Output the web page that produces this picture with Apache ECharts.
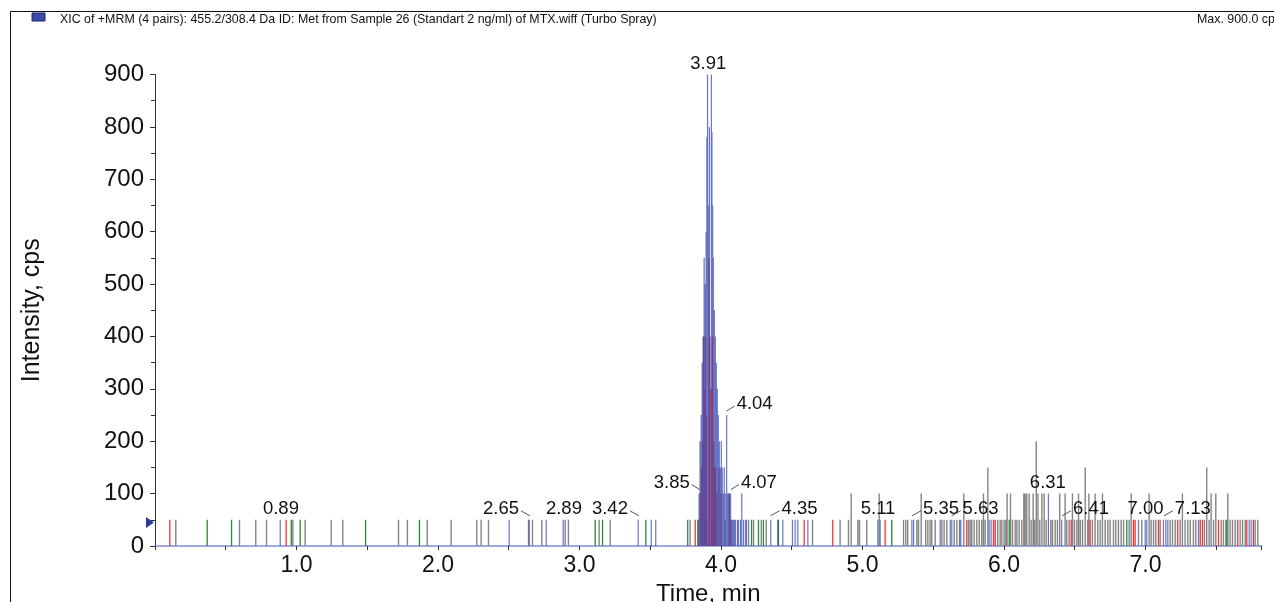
<!DOCTYPE html>
<html>
<head>
<meta charset="utf-8">
<script src="https://cdn.jsdelivr.net/npm/echarts@6/dist/echarts.min.js"></script>
<style>
html,body{margin:0;padding:0;background:#fff;overflow:hidden;width:1274px;height:602px;}
#chart{width:1274px;height:602px;display:block;}
</style>
</head>
<body>
<div id="chart"></div>
<script>
// ---------- data (time in min, intensity in cps) ----------
const headerText = 'XIC of +MRM (4 pairs): 455.2/308.4 Da ID: Met from Sample 26 (Standart 2 ng/ml) of MTX.wiff (Turbo Spray)';
const maxText = 'Max. 900.0 cps';
const xAxisName = 'Time, min';
const yAxisName = 'Intensity, cps';

const blueSpikes = [
  [0.885,50],[2.503,50],[2.645,50],[2.765,50],[2.885,50],[3.415,50],[3.507,50],[3.539,50],
  [3.845,100],[3.852,200],[3.860,250],[3.867,350],[3.874,400],[3.881,550],[3.888,500],[3.895,600],
  [3.900,780],[3.905,900],[3.912,650],[3.918,800],[3.932,900],[3.936,790],[3.941,650],[3.946,550],
  [3.953,450],[3.960,400],[3.967,350],[3.974,300],[3.981,250],[3.988,200],[3.995,150],[4.002,200],
  [4.009,150],[4.016,100],[4.023,150],[4.030,100],[4.040,250],[4.047,100],[4.054,100],[4.061,100],
  [4.068,100],[4.075,50],[4.082,50],[4.089,50],[4.096,50],[4.103,50],[4.117,50],[4.124,50],
  [4.138,50],[4.147,100],[4.160,50],[4.175,50],[4.195,50],
  [4.352,50],[4.401,50],[4.437,50],[4.505,50],[4.524,50],[4.543,50],[4.614,50],[5.108,50],[5.125,50],
  [5.349,50],[5.361,50],[5.549,50],[5.620,50],[5.631,50],[5.686,50],[5.695,50],[5.895,50],[5.909,50],
  [6.314,100],[6.408,50],[6.998,50],[7.009,50],[7.144,50],[7.158,50],[7.375,50],[7.733,50],[7.747,50]
];
const redSpikes = [
  [0.105,50],[0.927,50],[3.818,50],[3.855,100],[3.862,150],[3.870,200],[3.877,400],[3.884,300],
  [3.890,400],[3.897,250],[3.915,550],[3.922,400],[3.930,300],[3.940,400],[3.948,200],[3.955,150],
  [3.962,150],[3.970,100],[3.985,150],[4.000,100],[4.058,100],[4.070,50],[4.588,50],[4.790,50],
  [5.160,50],[5.737,50],[5.926,50],[5.938,50],[6.475,50],[6.609,50],[6.915,50],[6.927,50],[7.092,50],
  [7.228,50],[7.387,50],[7.403,50],[7.516,50],[7.652,50],[7.716,50],[7.763,50]
];
const greenSpikes = [
  [0.369,50],[0.541,50],[0.963,50],[1.026,50],[1.488,50],[1.869,50],[3.111,50],[3.163,50],[3.469,50],
  [3.765,50],[3.836,50],[3.885,50],[3.950,50],[4.216,50],[4.265,50],[4.300,50],[4.406,50],[5.207,50],
  [6.037,50],[6.868,50],[7.575,50]
];
const graySpikes = [
  [0.147,50],[0.597,50],[0.712,50],[0.788,50],[0.974,50],[1.061,50],[1.245,50],[1.327,50],[1.721,50],
  [1.784,50],[1.924,50],[2.093,50],[2.274,50],[2.305,50],[2.357,50],[2.640,50],[2.668,50],[2.734,50],
  [2.899,50],[2.922,50],[3.139,50],[3.217,50],[3.782,50],[3.842,50],[3.868,50],[3.900,50],[3.935,50],
  [4.030,50],[4.180,50],[4.230,50],[4.285,50],[4.320,50],[4.647,50],[4.842,50],[4.901,50],[4.920,100],
  [4.967,50],[4.979,50],[5.030,50],[5.118,100],[5.290,50],[5.306,50],[5.320,50],[5.384,50],[5.396,50],
  [5.415,100],[5.447,50],[5.462,50],[5.478,50],[5.490,50],[5.514,50],[5.561,50],[5.577,50],[5.596,50],
  [5.648,50],[5.667,50],[5.716,100],[5.749,50],[5.761,50],[5.772,50],[5.789,50],[5.808,50],[5.825,50],
  [5.843,50],[5.855,100],[5.867,50],[5.886,150],[5.956,50],[5.973,50],[5.985,50],[6.001,50],[6.013,50],
  [6.022,100],[6.046,100],[6.060,50],[6.079,50],[6.091,50],[6.107,50],[6.126,50],[6.140,100],[6.150,100],
  [6.161,100],[6.178,100],[6.192,50],[6.206,100],[6.216,50],[6.228,200],[6.240,100],[6.253,50],[6.268,100],
  [6.284,100],[6.298,50],[6.331,50],[6.343,50],[6.362,50],[6.378,50],[6.394,100],[6.432,100],[6.444,50],
  [6.461,50],[6.484,100],[6.498,50],[6.515,50],[6.527,100],[6.539,50],[6.555,50],[6.574,150],[6.592,50],
  [6.600,100],[6.625,50],[6.644,100],[6.663,50],[6.680,50],[6.696,100],[6.715,50],[6.734,50],[6.750,50],
  [6.774,50],[6.790,50],[6.809,50],[6.828,50],[6.845,50],[6.885,50],[6.899,100],[6.951,50],[6.974,50],
  [7.026,100],[7.040,50],[7.057,50],[7.073,50],[7.104,50],[7.127,50],[7.174,50],[7.191,50],[7.210,50],
  [7.245,50],[7.261,100],[7.280,50],[7.299,50],[7.316,50],[7.339,50],[7.356,50],[7.417,50],[7.433,150],
  [7.450,50],[7.464,100],[7.481,50],[7.497,100],[7.535,50],[7.551,50],[7.568,50],[7.582,100],[7.598,50],
  [7.615,50],[7.634,50],[7.669,50],[7.686,50],[7.705,50],[7.775,50],[7.794,50]
];
// peak labels: retention time and the intensity the label sits on
const labelTimes   = [0.89,2.65,2.89,3.42,3.85,3.91,4.04,4.07,4.35,5.11,5.35,5.63,6.31,6.41,7.00,7.13];
const labelHeights = [50,50,50,50,100,900,250,100,50,50,50,50,100,50,50,50];
const thresholdLevel = 45;

// ---------- styling / layout (not data) ----------
const labelShift = [0,-29,0,-29,-28,0,28,28,29,0,29,29,0,29,0,29]; // px, horizontal label shift
const FONT = '"Liberation Sans", Arial, sans-serif';
const W = 1274, H = 602;

function spikeLine(spikes){
  const s = spikes.slice().sort((a,b)=>a[0]-b[0]);
  const d = [];
  s.forEach(p => { d.push([p[0],0],[p[0],p[1]],null); });
  return d;
}
function spikeSeries(name, spikes, color, opacity, z, width){
  return {
    name, type:'line', data: spikeLine(spikes), showSymbol:false, symbol:'none',
    connectNulls:false, animation:false, silent:true,
    lineStyle:{color, width:width||1.2, opacity}, itemStyle:{color}, z
  };
}

const chart = echarts.init(document.getElementById('chart'), null, {renderer:'canvas', width:W, height:H});
const option = {
  animation:false,
  backgroundColor:'#ffffff',
  grid:{left:155, right:12.5, top:74.5, bottom:H-546, containLabel:false, outerBoundsMode:'none'},
  xAxis:{
    type:'value', min:0, max:7.82, interval:1,
    name:xAxisName, nameLocation:'middle', nameGap:32,
    nameTextStyle:{fontFamily:FONT, fontSize:24, color:'#111'},
    axisLine:{show:true, onZero:false, lineStyle:{color:'#7f8fd4', width:1.5}},
    axisTick:{show:true, length:4, lineStyle:{color:'#333'}},
    minorTick:{show:true, splitNumber:2, length:4, lineStyle:{color:'#333'}},
    splitLine:{show:false},
    axisLabel:{fontFamily:FONT, fontSize:23, color:'#111', margin:8,
      showMinLabel:false, showMaxLabel:false,
      formatter:v => (v>=1 && Math.abs(v-Math.round(v))<1e-6) ? v.toFixed(1) : ''}
  },
  yAxis:{
    type:'value', min:0, max:900, interval:100,
    name:yAxisName, nameLocation:'middle', nameGap:110,
    nameTextStyle:{fontFamily:FONT, fontSize:25, color:'#111'},
    axisLine:{show:true, lineStyle:{color:'#333', width:1}},
    axisTick:{show:true, length:5, lineStyle:{color:'#333'}},
    minorTick:{show:true, splitNumber:2, length:4, lineStyle:{color:'#333'}},
    splitLine:{show:false},
    axisLabel:{fontFamily:FONT, fontSize:24, color:'#111', margin:11}
  },
  graphic:[
    {type:'line', shape:{x1:10.5,y1:11.5,x2:W,y2:11.5}, style:{stroke:'#111', lineWidth:1}},
    {type:'line', shape:{x1:10.5,y1:11.5,x2:10.5,y2:H}, style:{stroke:'#111', lineWidth:1}},
    {type:'rect', shape:{x:32,y:13,width:13,height:8}, style:{fill:'#3a4aa8', stroke:'#1c2470', lineWidth:1}},
    {type:'text', x:60, y:20, style:{text:headerText, font:'12.4px "Liberation Sans", Arial, sans-serif', fill:'#111', verticalAlign:'middle'}},
    {type:'text', x:1197, y:20, style:{text:maxText, font:'12.4px "Liberation Sans", Arial, sans-serif', fill:'#111', verticalAlign:'middle'}}
  ],
  series:[
    spikeSeries('gray', graySpikes, '#858585', 1, 2, 1.4),
    spikeSeries('green', greenSpikes, '#238a35', 1, 3, 1.3),
    spikeSeries('red', redSpikes, '#f02a2a', 0.95, 4, 1.3),
    Object.assign(spikeSeries('455.2/308.4', blueSpikes, '#3e4eb2', 0.78, 5, 1.2), {
      markPoint:{
        silent:true, animation:false,
        symbol:'triangle', symbolSize:[11,8], symbolRotate:-90, symbolOffset:[-5,0],
        itemStyle:{color:'#2c3c9c'}, label:{show:false},
        data:[{coord:[0, thresholdLevel]}]
      }
    }),
    {
      type:'custom', name:'labels', coordinateSystem:'cartesian2d', silent:true, clip:false, z:6,
      data: labelTimes.map((t,i)=>[t, labelHeights[i]]),
      renderItem:(params, api)=>{
        const i = params.dataIndex;
        const t = api.value(0), h = api.value(1);
        const p = api.coord([t,h]);
        const dx = labelShift[i];
        const cx = p[0]+dx, cy = p[1]-11;
        const half = 19;
        const kids = [{type:'text', style:{text:t.toFixed(2), x:cx, y:cy, align:'center', verticalAlign:'middle',
          font:'18.5px "Liberation Sans", Arial, sans-serif', fill:'#111'}}];
        if(dx<0) kids.push({type:'line', shape:{x1:cx+half+1, y1:cy+2, x2:p[0], y2:p[1]-4}, style:{stroke:'#555', lineWidth:1}});
        if(dx>0) kids.push({type:'line', shape:{x1:p[0], y1:p[1]-4, x2:cx-half-1, y2:cy+2}, style:{stroke:'#555', lineWidth:1}});
        return {type:'group', children:kids};
      }
    }
  ]
};
chart.setOption(option);
</script>
</body>
</html>
